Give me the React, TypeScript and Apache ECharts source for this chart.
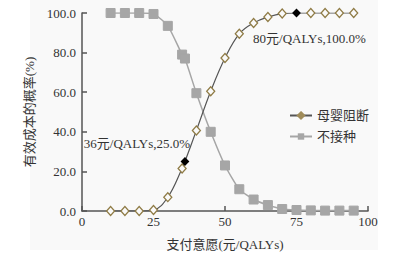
import React, { useEffect, useRef } from "react";
import * as echarts from "echarts";

const wtp = [10, 15, 20, 25, 30, 35, 36, 40, 45, 50, 55, 60, 65, 70, 75, 80, 85, 90, 95];
const motherBlock = [0, 0, 0, 0.5, 7, 21.5, 25, 40.7, 60.5, 77.3, 89.5, 95, 98, 99.7, 100, 100, 100, 100, 100];
const noVaccine = [100, 100, 100, 99.5, 93.5, 79, 77, 59.5, 40, 23, 11, 5.8, 3, 1, 0.5, 0.3, 0.2, 0.2, 0.2];
const seriesNames = ["母婴阻断", "不接种"];
const xTicks = [0, 25, 50, 75, 100];
const yTicks = [0, 20, 40, 60, 80, 100];
const highlights = [
  { x: 36, label: "36元/QALYs,25.0%" },
  { x: 75, label: "80元/QALYs,100.0%" },
];
const xName = "支付意愿(元/QALYs)";
const yName = "有效成本的概率(%)";

const FONT = "'Liberation Serif', 'Noto Sans CJK SC', serif";

export default function App() {
  const ref = useRef<HTMLDivElement>(null);
  useEffect(() => {
    if (!ref.current) return;
    const chart = echarts.init(ref.current, undefined, { renderer: "svg" });
    const motherData = wtp.map((x, i) => {
      const h = highlights.find((d) => d.x === x);
      const item: any = { value: [x, motherBlock[i]] };
      if (h) {
        item.symbolSize = 7;
        item.itemStyle = { color: "#000", borderColor: "#000" };
        const isFirst = h.x === highlights[0].x;
        item.label = {
          show: true,
          formatter: h.label,
          position: isFirst ? "top" : "bottom",
          offset: isFirst ? [-48, -2] : [13, 10],
          color: "#333",
          fontSize: 13,
          fontFamily: FONT,
        };
      }
      return item;
    });
    chart.setOption({
      animation: false,
      backgroundColor: "#ffffff",
      textStyle: { fontFamily: FONT },
      graphic: [
        {
          type: "rect",
          z: -10,
          silent: true,
          shape: { x: 30, y: 0, width: 348, height: 250 },
          style: { fill: "#f9f9f9" },
        },
      ],
      grid: { left: 82, right: 28, top: 13, bottom: 43 },
      legend: {
        orient: "vertical",
        left: 284,
        top: 104,
        itemWidth: 22,
        itemHeight: 8,
        itemGap: 8,
        textStyle: { color: "#333", fontSize: 13, fontFamily: FONT },
        data: [
          { name: seriesNames[0], itemStyle: { color: "#a08c5a", borderColor: "#a08c5a" } },
          { name: seriesNames[1], itemStyle: { color: "#a6a6a6", borderColor: "#a6a6a6" } },
        ],
      },
      xAxis: {
        type: "value",
        min: xTicks[0],
        max: xTicks[xTicks.length - 1],
        interval: 25,
        name: xName,
        nameLocation: "middle",
        nameGap: 27,
        nameTextStyle: { color: "#333", fontSize: 13, fontFamily: FONT },
        axisLine: { lineStyle: { color: "#555", width: 1.5 } },
        axisTick: { inside: true, length: 5, lineStyle: { color: "#555", width: 1.5 } },
        axisLabel: { color: "#333", fontSize: 13, fontFamily: FONT, margin: 4 },
        splitLine: { show: false },
      },
      yAxis: {
        type: "value",
        min: yTicks[0],
        max: yTicks[yTicks.length - 1],
        interval: 20,
        name: yName,
        nameLocation: "middle",
        nameGap: 44,
        nameTextStyle: { color: "#333", fontSize: 13, fontFamily: FONT },
        axisLine: { show: true, lineStyle: { color: "#555", width: 1.5 } },
        axisTick: { show: true, inside: true, length: 5, lineStyle: { color: "#555", width: 1.5 } },
        axisLabel: {
          color: "#333",
          fontSize: 13,
          fontFamily: FONT,
          margin: 6,
          formatter: (v: number) => v.toFixed(1),
        },
        splitLine: { show: false },
      },
      series: [
        {
          name: seriesNames[1],
          type: "line",
          smooth: 0.2,
          data: wtp.map((x, i) => [x, noVaccine[i]]),
          symbol: "rect",
          symbolSize: 9,
          lineStyle: { color: "#a6a6a6", width: 1.5 },
          itemStyle: { color: "#a6a6a6", borderColor: "#a6a6a6" },
          z: 2,
        },
        {
          name: seriesNames[0],
          type: "line",
          smooth: 0.4,
          data: motherData,
          symbol: "diamond",
          symbolSize: [8, 9],
          showAllSymbol: true,
          lineStyle: { color: "#555", width: 1.2 },
          itemStyle: { color: "#fafafa", borderColor: "#8f7b45", borderWidth: 1.3 },
          z: 3,
        },
      ],
    });
    return () => chart.dispose();
  }, []);
  return (
    <div
      ref={ref}
      style={{ position: "fixed", left: 0, top: 0, width: 396, height: 256 }}
    />
  );
}
